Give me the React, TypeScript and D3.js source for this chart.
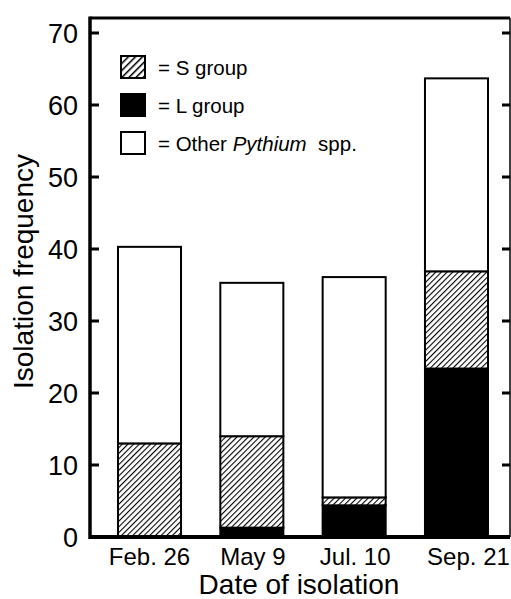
import React from "react";
import * as d3 from "d3";

const categories = ["Feb. 26", "May 9", "Jul. 10", "Sep. 21"];
const lGroup = [0, 1.3, 4.4, 23.4];
const sGroup = [13.0, 12.7, 1.1, 13.5];
const otherSpp = [27.3, 21.3, 30.6, 26.8];
const yTicks = [0, 10, 20, 30, 40, 50, 60, 70];
const labelDx = [0, 1, 1, 12];

const W = 511;
const H = 599;
const FONT = "'Liberation Sans', Arial, Helvetica, sans-serif";

export default function App() {
  const left = 90, right = 510, top = 18, bottom = 537;
  const y = d3.scaleLinear().domain([0, 70]).range([bottom, 33]);
  const x = d3
    .scaleBand<string>()
    .domain(categories)
    .range([96, 510])
    .paddingInner(0.384)
    .paddingOuter(0.215);

  const stacks = categories.map((c, i) => {
    const l = lGroup[i];
    const s = sGroup[i];
    const o = otherSpp[i];
    return [
      { key: "L", y0: 0, y1: l, fill: "#000" },
      { key: "S", y0: l, y1: l + s, fill: "url(#hatch)" },
      { key: "O", y0: l + s, y1: l + s + o, fill: "#fff" },
    ];
  });

  const legend = [
    { fill: "url(#hatchL)", label: [{ t: "= S group", it: false }] },
    { fill: "#000", label: [{ t: "= L group", it: false }] },
    {
      fill: "#fff",
      label: [
        { t: "= Other ", it: false },
        { t: "Pythium", it: true },
        { t: "  spp.", it: false },
      ],
    },
  ];

  return (
    <svg
      width={W}
      height={H}
      style={{ position: "absolute", left: 0, top: 0, background: "#fff" }}
      fontFamily={FONT}
    >
      <defs>
        <pattern id="hatch" patternUnits="userSpaceOnUse" width={4} height={4} patternTransform="rotate(45)">
          <rect width={4} height={4} fill="#fff" />
          <line x1={0} y1={0} x2={0} y2={4} stroke="#000" strokeWidth={2.2} />
        </pattern>
        <pattern id="hatchL" patternUnits="userSpaceOnUse" width={5} height={5} patternTransform="rotate(45)">
          <rect width={5} height={5} fill="#fff" />
          <line x1={0} y1={0} x2={0} y2={5} stroke="#000" strokeWidth={3} />
        </pattern>
      </defs>
      <rect width={W} height={H} fill="#fff" />

      {/* bars */}
      {stacks.map((segs, i) =>
        segs.map((s) =>
          s.y1 - s.y0 > 0 ? (
            <rect
              key={categories[i] + s.key}
              x={x(categories[i])!}
              width={x.bandwidth()}
              y={y(s.y1)}
              height={y(s.y0) - y(s.y1)}
              fill={s.fill}
              stroke="#000"
              strokeWidth={2}
            />
          ) : null
        )
      )}

      {/* frame */}
      <line x1={left} x2={right} y1={top} y2={top} stroke="#000" strokeWidth={3} />
      <line x1={left} x2={left} y1={top - 1.5} y2={bottom + 2} stroke="#000" strokeWidth={3.5} />
      <line x1={left} x2={right} y1={bottom} y2={bottom} stroke="#000" strokeWidth={4} />
      <line x1={right} x2={right} y1={top} y2={bottom} stroke="#000" strokeWidth={1.5} />

      {/* ticks */}
      {yTicks.map((t) => (
        <g key={t}>
          {t > 0 && (
            <>
              <line x1={left} x2={left + 9} y1={y(t)} y2={y(t)} stroke="#000" strokeWidth={3} />
              <line x1={right} x2={right - 8} y1={y(t)} y2={y(t)} stroke="#000" strokeWidth={3} />
            </>
          )}
          <text x={78} y={y(t)} dy="0.36em" textAnchor="end" fontSize={27} fill="#000">
            {t}
          </text>
        </g>
      ))}

      {categories.map((c, i) => (
        <text
          key={c}
          x={x(c)! + x.bandwidth() / 2 + labelDx[i]}
          y={565}
          textAnchor="middle"
          fontSize={24}
          fill="#000"
        >
          {c}
        </text>
      ))}

      <text x={299} y={594} textAnchor="middle" fontSize={28} fill="#000">
        Date of isolation
      </text>
      <text
        transform={`translate(33, 271.5) rotate(-90)`}
        textAnchor="middle"
        fontSize={28}
        fill="#000"
      >
        Isolation frequency
      </text>

      {/* legend */}
      {legend.map((l, i) => (
        <g key={i} transform={`translate(121, ${56 + i * 38})`}>
          <rect width={24} height={22} fill={l.fill} stroke="#000" strokeWidth={2} />
          <text x={37} y={19} fontSize={20.5} fill="#000">
            {l.label.map((p, j) => (
              <tspan key={j} fontStyle={p.it ? "italic" : "normal"} style={{ whiteSpace: "pre" }}>
                {p.t}
              </tspan>
            ))}
          </text>
        </g>
      ))}
    </svg>
  );
}
